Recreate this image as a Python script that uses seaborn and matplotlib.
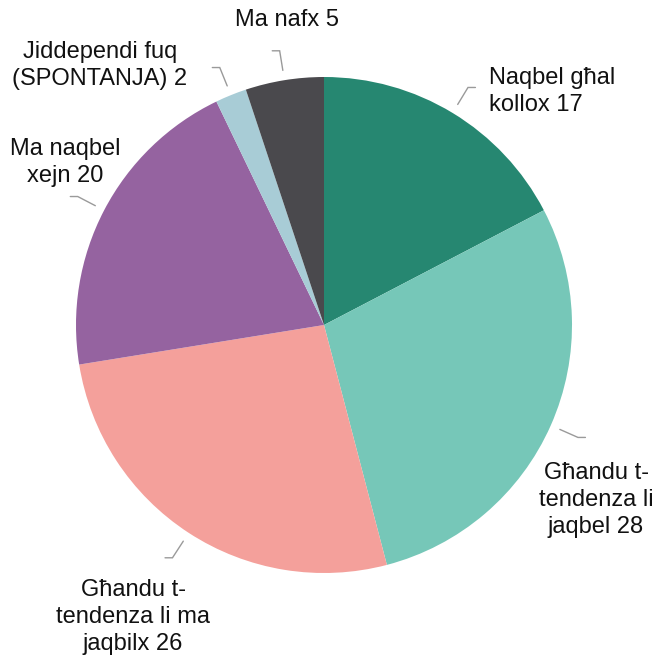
import matplotlib.pyplot as plt
import numpy as np
import seaborn as sns

# survey answers, clockwise from 12 o'clock
labels = ["Naqbel għal\nkollox 17",
          "Għandu t-\ntendenza li\njaqbel 28",
          "Għandu t-\ntendenza li ma\njaqbilx 26",
          "Ma naqbel\nxejn 20",
          "Jiddependi fuq\n(SPONTANJA) 2",
          "Ma nafx 5"]
values = [17, 28, 26, 20, 2, 5]
colors = ["#268771", "#76c7b8", "#f4a09b", "#9563a0", "#a8ccd6", "#4a494d"]

# where each label sits (data coords, pie radius = 1) and how it is aligned
label_xy = [(0.665, 0.94), (1.097, -0.706), (-0.77, -1.177),
            (-1.044, 0.655), (-0.903, 1.048), (-0.149, 1.23)]
label_ha = ["left", "center", "center", "center", "center", "center"]

sns.set_theme(style="white")
plt.rcParams['font.family'] = ['Liberation Sans', 'DejaVu Sans']

fig = plt.figure(figsize=(6.57, 6.58), dpi=100)
ax = fig.add_axes([0, 0, 1, 1])
ax.axis("off")

wedges, _ = ax.pie(values, colors=colors, startangle=90, counterclock=False,
                   radius=1, wedgeprops=dict(linewidth=0))

# leader lines: short slanted tick then a tiny horizontal hook
for w in wedges:
    ang = np.deg2rad((w.theta1 + w.theta2) / 2)
    x1, y1 = 1.04 * np.cos(ang), 1.04 * np.sin(ang)
    x2, y2 = 1.12 * np.cos(ang), 1.12 * np.sin(ang)
    hook = 0.03 if np.cos(ang) > 0 else -0.03
    ax.plot([x1, x2, x2 + hook], [y1, y2, y2], color="#9a9a9a", lw=1.0,
            solid_joinstyle="miter")

for txt, (x, y), ha in zip(labels, label_xy, label_ha):
    ax.text(x, y, txt, ha=ha, va="center", multialignment=ha,
            fontsize=17, color="#111111", linespacing=1.3)

# map data units to pixels: center at (324, 325), radius 248 px
ax.set_xlim(-324 / 248, (657 - 324) / 248)
ax.set_ylim(-(658 - 325) / 248, 325 / 248)
ax.set_aspect("auto")

fig.savefig("out.png", dpi=100)
